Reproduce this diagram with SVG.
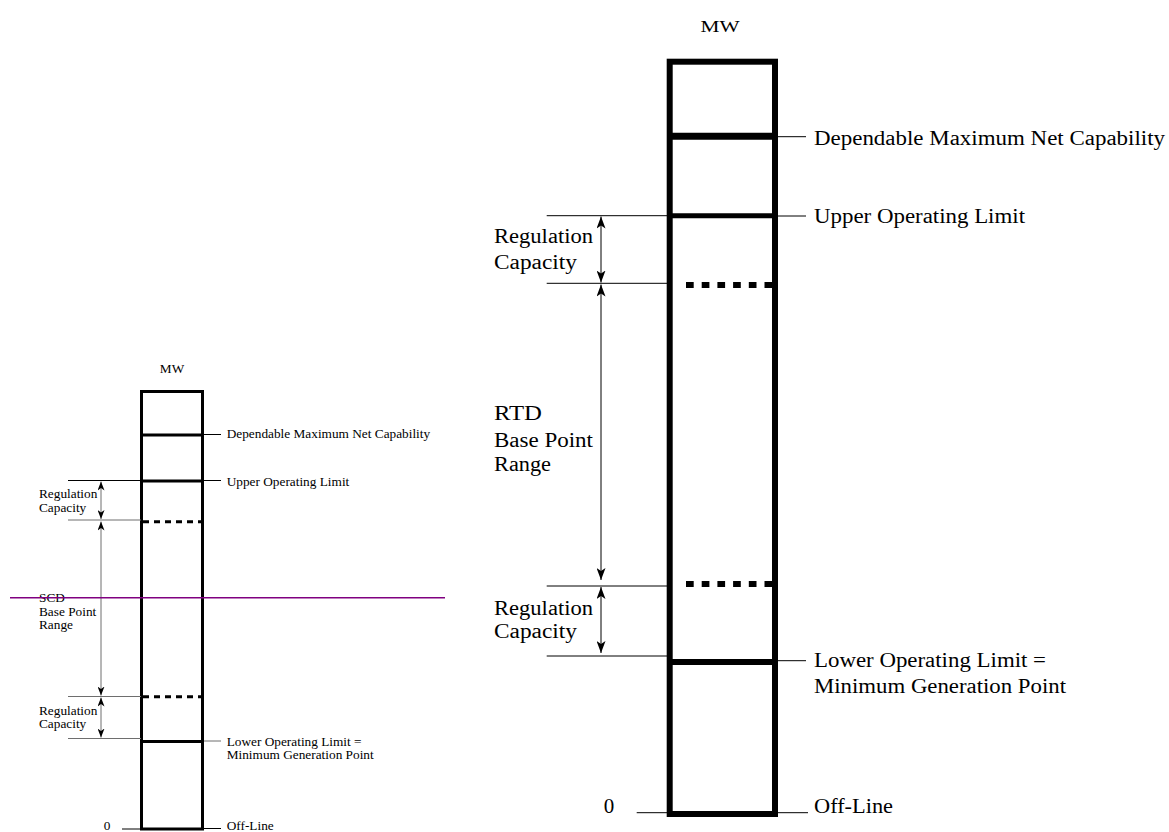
<svg xmlns="http://www.w3.org/2000/svg" width="1169" height="832" viewBox="0 0 1169 832">
<style>
text{font-family:"Liberation Serif","Times New Roman",serif;fill:#000}
.s{font-size:13.3px}
.b{font-size:20px}
.box{fill:none;stroke:#000}
.thin{stroke:#000;stroke-width:1;fill:none}
.grey{stroke:#6e6e6e;stroke-width:1;fill:none}
</style>
<defs>
<marker id="ahS" markerUnits="userSpaceOnUse" markerWidth="9" markerHeight="7" refX="9" refY="3.5" orient="auto-start-reverse" viewBox="0 0 9 7">
<path d="M0,0 L9,3.5 L0,7 L2.5,3.5 z" fill="#000"/>
</marker>
<marker id="ahB" markerUnits="userSpaceOnUse" markerWidth="12" markerHeight="9" refX="12" refY="4.5" orient="auto-start-reverse" viewBox="0 0 12 9">
<path d="M0,0 L12,4.5 L0,9 L3,4.5 z" fill="#000"/>
</marker>
</defs>
<rect width="1169" height="832" fill="#fff"/>

<!-- Small diagram -->
<g id="small-column">
<rect class="box" x="141.5" y="391.5" width="61" height="437.5" stroke-width="3"/>
<line x1="141.5" y1="435" x2="202.5" y2="435" stroke="#000" stroke-width="3"/>
<line x1="141.5" y1="481" x2="202.5" y2="481" stroke="#000" stroke-width="3"/>
<line x1="143" y1="521.7" x2="202" y2="521.7" stroke="#000" stroke-width="3" stroke-dasharray="6 5"/>
<line x1="143" y1="696.7" x2="202" y2="696.7" stroke="#000" stroke-width="3" stroke-dasharray="6 5"/>
<line x1="141.5" y1="741.5" x2="202.5" y2="741.5" stroke="#000" stroke-width="3"/>
<text class="s" x="172" y="373" text-anchor="middle">MW</text>
<text class="s" x="107" y="829.5" text-anchor="middle">0</text>
</g>
<g id="small-labels">
<text class="s" x="226.7" y="438">Dependable Maximum Net Capability</text>
<text class="s" x="226.7" y="486">Upper Operating Limit</text>
<text class="s" x="226.7" y="745.7">Lower Operating Limit =</text>
<text class="s" x="226.7" y="759">Minimum Generation Point</text>
<text class="s" x="226.7" y="829.5">Off-Line</text>
<text class="s" x="39" y="498">Regulation</text>
<text class="s" x="39" y="511.5">Capacity</text>
<text class="s" x="39" y="601.7">SCD</text>
<text class="s" x="39" y="615.5">Base Point</text>
<text class="s" x="39" y="629">Range</text>
<text class="s" x="39" y="715">Regulation</text>
<text class="s" x="39" y="728">Capacity</text>
</g>

<!-- Large diagram -->
<g id="large-column">
<rect class="box" x="669.7" y="61.7" width="105.3" height="752.3" stroke-width="6"/>
<line x1="669.7" y1="136.3" x2="775" y2="136.3" stroke="#000" stroke-width="7"/>
<line x1="669.7" y1="215.8" x2="775" y2="215.8" stroke="#000" stroke-width="5"/>
<line x1="686" y1="285" x2="774" y2="285" stroke="#000" stroke-width="6" stroke-dasharray="7.7 8"/>
<line x1="686" y1="584" x2="774" y2="584" stroke="#000" stroke-width="6" stroke-dasharray="7.7 8"/>
<line x1="669.7" y1="662" x2="775" y2="662" stroke="#000" stroke-width="6"/>
<text x="720" y="31.7" text-anchor="middle" font-size="16" textLength="39" lengthAdjust="spacingAndGlyphs">MW</text>
<text x="609" y="813" text-anchor="middle" font-size="21">0</text>
</g>
<g id="large-labels">
<text class="b" x="814" y="145" textLength="351" lengthAdjust="spacingAndGlyphs">Dependable Maximum Net Capability</text>
<text class="b" x="814" y="223" textLength="211" lengthAdjust="spacingAndGlyphs">Upper Operating Limit</text>
<text class="b" x="814" y="666.7" textLength="232" lengthAdjust="spacingAndGlyphs">Lower Operating Limit =</text>
<text class="b" x="814" y="693.3" textLength="252" lengthAdjust="spacingAndGlyphs">Minimum Generation Point</text>
<text class="b" x="814" y="813" textLength="79" lengthAdjust="spacingAndGlyphs">Off-Line</text>
<text class="b" x="494" y="243" textLength="99" lengthAdjust="spacingAndGlyphs">Regulation</text>
<text class="b" x="494" y="268.5" textLength="83" lengthAdjust="spacingAndGlyphs">Capacity</text>
<text class="b" x="494" y="420" textLength="48" lengthAdjust="spacingAndGlyphs">RTD</text>
<text class="b" x="494" y="446.5" textLength="99" lengthAdjust="spacingAndGlyphs">Base Point</text>
<text class="b" x="494" y="470.5" textLength="57" lengthAdjust="spacingAndGlyphs">Range</text>
<text class="b" x="494" y="615" textLength="99" lengthAdjust="spacingAndGlyphs">Regulation</text>
<text class="b" x="494" y="637.5" textLength="83" lengthAdjust="spacingAndGlyphs">Capacity</text>
</g>

<g id="connectors">
<!-- small diagram leaders -->
<line class="thin" x1="204" y1="434.5" x2="221" y2="434.5"/>
<line class="thin" x1="204" y1="480.5" x2="221" y2="480.5"/>
<line class="grey" x1="204" y1="741" x2="221" y2="741"/>
<line class="thin" x1="204" y1="828.5" x2="221" y2="828.5"/>
<line class="thin" x1="122" y1="829" x2="141" y2="829"/>
<line class="thin" x1="68" y1="480.5" x2="141" y2="480.5"/>
<line class="grey" x1="68" y1="520" x2="141" y2="520"/>
<line class="grey" x1="68" y1="696.5" x2="141" y2="696.5"/>
<line class="grey" x1="68" y1="738.5" x2="141" y2="738.5"/>
<line class="grey" x1="101" y1="481.5" x2="101" y2="519" marker-start="url(#ahS)" marker-end="url(#ahS)"/>
<line class="grey" x1="101" y1="521.5" x2="101" y2="695.5" marker-start="url(#ahS)" marker-end="url(#ahS)"/>
<line class="grey" x1="101" y1="697.5" x2="101" y2="737.5" marker-start="url(#ahS)" marker-end="url(#ahS)"/>
<!-- large diagram leaders -->
<line class="thin" x1="778" y1="136.7" x2="806" y2="136.7"/>
<line class="thin" x1="778" y1="216" x2="806" y2="216"/>
<line class="thin" x1="778" y1="660.7" x2="806" y2="660.7"/>
<line class="thin" x1="778" y1="812.7" x2="808" y2="812.7"/>
<line class="thin" x1="636.7" y1="812.7" x2="668" y2="812.7"/>
<line class="thin" x1="546.7" y1="215.7" x2="668" y2="215.7"/>
<line class="thin" x1="546.7" y1="283.3" x2="668" y2="283.3"/>
<line class="thin" x1="546.7" y1="586" x2="668" y2="586"/>
<line class="thin" x1="546.7" y1="656" x2="668" y2="656"/>
<line class="thin" x1="601" y1="216.5" x2="601" y2="282.5" marker-start="url(#ahB)" marker-end="url(#ahB)"/>
<line class="thin" x1="601" y1="284.5" x2="601" y2="580" marker-start="url(#ahB)" marker-end="url(#ahB)"/>
<line class="thin" x1="601" y1="587" x2="601" y2="653" marker-start="url(#ahB)" marker-end="url(#ahB)"/>
<!-- purple line -->
<line x1="10" y1="597.7" x2="445" y2="597.7" stroke="#800080" stroke-width="1.5"/>
</g>
</svg>
